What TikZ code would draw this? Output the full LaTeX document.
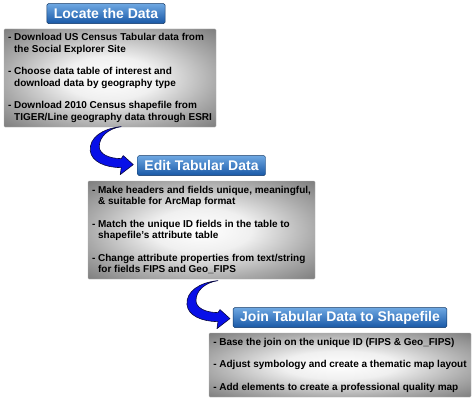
\documentclass[tikz,border=0pt]{standalone}
\usepackage{fontspec}
\setmainfont{Liberation Sans}
\usetikzlibrary{positioning,calc}
\definecolor{headtop}{RGB}{110,168,226}
\definecolor{headbot}{RGB}{24,88,166}
\definecolor{arrowblue}{RGB}{8,16,232}
\definecolor{arrowedge}{RGB}{8,8,60}
\pgfdeclareradialshading{greybox}{\pgfpoint{0bp}{0bp}}{color(0bp)=(white); color(11bp)=(white!94!black); color(25bp)=(black!33); color(35bp)=(black!50); color(50bp)=(black!50)}

\begin{document}
\begin{tikzpicture}[x=1pt,y=1pt,
  headbox/.style={draw=headbot!60!black, rounded corners=1.5pt, top color=headtop, bottom color=headbot, text=white, font=\fontsize{14}{16}\selectfont\bfseries, minimum height=20pt, inner xsep=7pt, inner ysep=0pt},
  listbox/.style={shade, shading=greybox, draw=black!30, rounded corners=1pt, align=left, font=\fontsize{10}{11.5}\selectfont\bfseries, inner xsep=4pt, inner ysep=3pt},
  bendarrow/.pic={
    \fill[arrowblue, draw=arrowedge, line width=0.6pt, line join=round]
      (-12,38) .. controls (-31,36) and (-44,27) .. (-43,14)
      .. controls (-42,3) and (-28,-3) .. (-12,-3)
      -- (-13,-10) -- (0,0) -- (-10,9) -- (-12,6)
      .. controls (-25,6) and (-34,11) .. (-34,18)
      .. controls (-34,28) and (-25,36) .. (-12,38) -- cycle;
  }]
\useasboundingbox (0,0) rectangle (474,400);

\node[listbox, minimum width=212pt, minimum height=98pt] (box1) at (110,322)
  {- Download US Census Tabular data from\\\phantom{- }the Social Explorer Site\\[11pt]
   - Choose data table of interest and\\\phantom{- }download data by geography type\\[11pt]
   - Download 2010 Census shapefile from\\\phantom{- }TIGER/Line geography data through ESRI};
\node[headbox, above=5pt of box1, xshift=-4pt] (head1) {Locate the Data};

\node[listbox, minimum width=227pt, minimum height=98pt] (box2) at (201.5,170)
  {- Make headers and fields unique, meaningful,\\\phantom{- }\& suitable for ArcMap format\\[11pt]
   - Match the unique ID fields in the table to\\\phantom{- }shapefile's attribute table\\[11pt]
   - Change attribute properties from text/string\\\phantom{- }for fields FIPS and Geo\_FIPS};
\node[headbox, above=5pt of box2] (head2) {Edit Tabular Data};

\node[listbox, minimum width=262pt, minimum height=64pt] (box3) at (340,35)
  {- Base the join on the unique ID (FIPS \& Geo\_FIPS)\\[11pt]
   - Adjust symbology and create a thematic map layout\\[11pt]
   - Add elements to create a professional quality map};
\node[headbox, above=5pt of box3] (head3) {Join Tabular Data to Shapefile};

% curved arrows between the steps
\coordinate (tip2) at ($(head2.west)+(-4,1)$);
\coordinate (tip3) at ($(head3.west)+(-3,-1)$);
\pic at (tip2) {bendarrow};
\pic at (tip3) {bendarrow};
\end{tikzpicture}
\end{document}
